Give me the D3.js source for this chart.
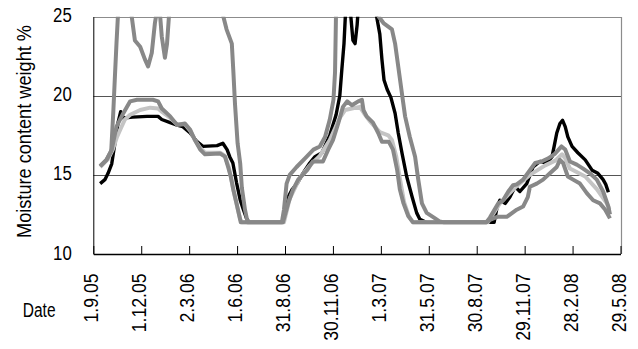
<!DOCTYPE html>
<html lang="en">
<head>
  <meta charset="UTF-8">
  <title>Moisture content</title>
  <script src="https://d3js.org/d3.v7.min.js"></script>
  <style>
    body { margin: 0; background: #fff; }
    text { font-family: "Liberation Sans", Arial, sans-serif; fill: #000; }
  </style>
</head>
<body>
<script>
  // tick labels of the date axis (every 91 days)
  var dateTicks = ['1.9.05','1.12.05','2.3.06','1.6.06','31.8.06','30.11.06','1.3.07','31.5.07','30.8.07','29.11.07','28.2.08','29.5.08']
  var yTicks = [10, 15, 20, 25]

  // four sensors, values (above 25 = off the chart)
  var black = [["2005-09-14",14.45],["2005-09-23",14.7],["2005-09-29",15.1],["2005-10-06",15.7],["2005-10-12",17.0],["2005-10-18",18.3],["2005-10-23",19.0],["2005-10-28",18.6],["2005-11-15",18.65],["2005-12-12",18.7],["2006-01-02",18.7],["2006-01-09",18.5],["2006-01-25",18.3],["2006-02-07",18.15],["2006-02-18",18.05],["2006-03-04",17.65],["2006-03-17",17.1],["2006-03-28",16.8],["2006-04-24",16.85],["2006-05-05",17.0],["2006-05-13",16.6],["2006-05-18",16.15],["2006-05-24",15.75],["2006-05-31",14.5],["2006-06-07",13.4],["2006-06-13",12.8],["2006-06-19",12.25],["2006-06-24",12.0],["2006-08-27",12.0],["2006-09-06",13.6],["2006-09-13",14.05],["2006-09-23",14.45],["2006-10-04",15.1],["2006-10-17",15.75],["2006-10-27",16.15],["2006-11-09",16.4],["2006-11-24",17.5],["2006-12-06",18.8],["2006-12-13",20.0],["2006-12-17",21.7],["2006-12-21",23.3],["2006-12-25",26],["2006-12-30",26.5],["2007-01-03",25],["2007-01-07",23.5],["2007-01-11",23.3],["2007-01-15",24.5],["2007-01-18",26],["2007-01-30",28],["2007-02-12",27],["2007-02-21",25],["2007-02-27",23.9],["2007-03-03",22.3],["2007-03-07",21.0],["2007-03-13",20.4],["2007-03-20",19.9],["2007-03-28",18.9],["2007-04-03",17.65],["2007-04-10",16.4],["2007-04-19",14.9],["2007-04-29",13.65],["2007-05-08",12.6],["2007-05-14",12.2],["2007-05-26",12.0],["2007-10-02",12.0],["2007-10-08",13.0],["2007-10-13",13.4],["2007-10-23",13.2],["2007-11-01",13.6],["2007-11-11",14.25],["2007-11-20",13.95],["2007-12-03",14.45],["2007-12-15",15.5],["2007-12-28",15.85],["2008-01-10",15.75],["2008-01-20",16.15],["2008-01-24",16.8],["2008-01-29",17.65],["2008-02-04",18.25],["2008-02-09",18.45],["2008-02-14",18.05],["2008-02-19",17.4],["2008-02-27",16.8],["2008-03-09",16.4],["2008-03-23",15.95],["2008-04-05",15.3],["2008-04-16",15.1],["2008-04-26",14.7],["2008-05-01",14.4],["2008-05-06",13.9]]

  var lightGray = [["2005-09-14",15.5],["2005-09-29",16.0],["2005-10-08",16.6],["2005-10-16",17.4],["2005-10-24",18.0],["2005-10-31",18.5],["2005-11-10",18.8],["2005-11-29",19.1],["2005-12-18",19.25],["2006-01-02",19.2],["2006-01-09",19.0],["2006-01-25",18.6],["2006-02-07",18.2],["2006-02-22",18.2],["2006-03-04",17.8],["2006-03-13",17.2],["2006-03-23",16.7],["2006-04-01",16.4],["2006-04-30",16.4],["2006-05-09",16.2],["2006-05-17",15.4],["2006-05-24",14.2],["2006-06-01",13.0],["2006-06-07",12.2],["2006-06-10",12.0],["2006-08-29",12.0],["2006-09-09",13.5],["2006-09-28",14.8],["2006-10-17",15.6],["2006-11-05",16.2],["2006-11-24",17.2],["2006-12-13",18.6],["2006-12-23",19.1],["2007-01-05",19.2],["2007-01-20",19.3],["2007-01-28",18.9],["2007-02-08",18.4],["2007-02-27",17.7],["2007-03-15",17.5],["2007-03-22",17.2],["2007-03-30",16.2],["2007-04-06",14.8],["2007-04-14",13.3],["2007-04-23",12.4],["2007-05-01",12.0],["2007-09-20",12.0],["2007-10-13",13.2],["2007-11-11",14.2],["2007-12-09",15.0],["2008-01-07",15.6],["2008-01-26",15.9],["2008-02-08",16.3],["2008-02-15",16.0],["2008-02-23",15.4],["2008-03-23",14.9],["2008-04-14",14.1],["2008-05-03",13.2],["2008-05-08",12.8]]

  var grayA = [["2005-09-14",15.55],["2005-09-26",15.95],["2005-10-06",16.6],["2005-10-15",18.05],["2005-10-28",18.9],["2005-11-10",19.65],["2005-11-23",19.75],["2005-12-12",19.75],["2005-12-23",19.75],["2006-01-02",19.65],["2006-01-09",19.2],["2006-01-25",18.7],["2006-02-07",18.15],["2006-02-22",18.25],["2006-03-04",17.85],["2006-03-13",17.2],["2006-03-23",16.6],["2006-04-01",16.3],["2006-04-30",16.35],["2006-05-09",16.15],["2006-05-15",15.5],["2006-05-20",14.9],["2006-05-25",14.05],["2006-05-31",13.2],["2006-06-07",12.15],["2006-06-08",12.0],["2006-08-27",12.0],["2006-09-06",13.2],["2006-09-15",14.05],["2006-09-25",14.7],["2006-10-12",15.3],["2006-10-23",15.85],["2006-11-11",15.85],["2006-11-21",16.6],["2006-11-30",17.2],["2006-12-10",18.25],["2006-12-19",19.3],["2006-12-27",19.65],["2007-01-05",19.4],["2007-01-17",19.65],["2007-01-24",19.75],["2007-01-27",19.1],["2007-02-02",18.7],["2007-02-14",18.3],["2007-02-24",17.65],["2007-03-03",17.1],["2007-03-16",17.1],["2007-03-24",16.6],["2007-04-01",15.3],["2007-04-06",14.1],["2007-04-13",13.2],["2007-04-22",12.4],["2007-05-01",12.0],["2007-09-17",12.0],["2007-09-24",12.15],["2007-10-08",12.35],["2007-10-26",12.35],["2007-11-14",12.8],["2007-11-26",13.0],["2007-12-05",13.6],["2007-12-09",14.25],["2007-12-22",14.45],["2008-01-03",14.7],["2008-01-16",15.1],["2008-01-29",15.5],["2008-02-04",15.95],["2008-02-10",15.75],["2008-02-19",14.9],["2008-02-29",14.7],["2008-03-13",14.45],["2008-03-26",13.85],["2008-04-07",13.4],["2008-04-20",13.2],["2008-04-30",12.8],["2008-05-09",12.25]]

  var grayB = [["2005-09-14",15.55],["2005-09-26",15.95],["2005-10-05",16.5],["2005-10-09",19.0],["2005-10-12",21.2],["2005-10-15",23.3],["2005-10-18",25.2],["2005-10-25",27],["2005-11-06",27],["2005-11-13",25],["2005-11-19",23.5],["2005-11-29",23.1],["2005-12-08",22.3],["2005-12-14",21.85],["2005-12-21",22.7],["2005-12-27",24.6],["2005-12-30",25.2],["2006-01-03",25.4],["2006-01-06",25],["2006-01-09",23.75],["2006-01-15",22.4],["2006-01-19",23.3],["2006-01-23",25.2],["2006-02-03",28],["2006-03-23",28],["2006-04-20",27],["2006-05-03",25.5],["2006-05-06",25],["2006-05-12",24.2],["2006-05-22",23.3],["2006-05-25",21.5],["2006-05-28",19.5],["2006-06-02",17.0],["2006-06-07",15.7],["2006-06-10",14.2],["2006-06-16",12.8],["2006-06-21",12.0],["2006-08-25",12.0],["2006-08-29",12.8],["2006-09-03",14.45],["2006-09-09",15.0],["2006-09-22",15.5],["2006-10-08",16.05],["2006-10-24",16.6],["2006-11-05",16.8],["2006-11-15",17.4],["2006-11-24",18.5],["2006-12-01",19.75],["2006-12-04",21.5],["2006-12-06",25.5],["2006-12-13",28],["2007-02-08",28],["2007-02-20",26],["2007-02-25",25],["2007-03-06",24.6],["2007-03-22",24.2],["2007-03-28",23.3],["2007-04-03",21.85],["2007-04-10",20.15],["2007-04-16",18.7],["2007-04-25",17.4],["2007-05-05",16.15],["2007-05-11",14.7],["2007-05-18",13.2],["2007-05-27",12.6],["2007-06-12",12.25],["2007-06-21",12.05],["2007-06-29",12.0],["2007-09-17",12.0],["2007-09-24",12.3],["2007-10-10",13.2],["2007-10-19",13.4],["2007-10-29",13.95],["2007-11-07",14.35],["2007-11-14",14.4],["2007-11-26",14.7],["2007-12-09",15.3],["2007-12-19",15.75],["2007-12-31",15.85],["2008-01-13",16.05],["2008-01-26",16.35],["2008-02-07",16.8],["2008-02-14",16.6],["2008-02-23",15.85],["2008-03-07",15.65],["2008-03-19",15.4],["2008-04-01",15.1],["2008-04-14",14.7],["2008-04-26",13.95],["2008-05-06",13.0],["2008-05-09",12.5]]

  var width = 638
  var height = 349
  var plot = {left: 93.3, right: 620.5, top: 16.7, bottom: 254}

  var parseIso = d3.timeParse('%Y-%m-%d')
  var parseTick = d3.timeParse('%d.%m.%y')
  var tickDates = dateTicks.map(parseTick)

  var svg = d3.select('body').append('svg').attr('width', width).attr('height', height)

  var xScale = d3.scaleTime().domain([tickDates[0], tickDates[tickDates.length - 1]]).range([plot.left, plot.right])
  var yScale = d3.scaleLinear().domain([10, 25]).range([plot.bottom, plot.top])

  drawFrame()
  drawLines()
  drawAxis()

  function drawFrame(){
    // gridlines at 15 and 20
    svg.append('g').selectAll('line').data([15, 20]).enter().append('line')
       .attr('x1', plot.left).attr('x2', plot.right + 1)
       .attr('y1', function(d){ return Math.round(yScale(d)) + 0.5 })
       .attr('y2', function(d){ return Math.round(yScale(d)) + 0.5 })
       .attr('stroke', '#555').attr('stroke-width', 1)
    // top and right border, grey
    svg.append('path')
       .attr('d', 'M' + plot.left + ',' + (Math.round(plot.top) + 0.5) + 'H' + (Math.round(plot.right) + 0.5) + 'V' + plot.bottom)
       .attr('fill', 'none').attr('stroke', '#8c8c8c').attr('stroke-width', 1.2)
  }

  function drawLines(){
    svg.append('clipPath').attr('id', 'clip').append('rect')
       .attr('x', plot.left).attr('y', plot.top)
       .attr('width', plot.right - plot.left + 1).attr('height', plot.bottom - plot.top)
    var line = d3.line()
                 .x(function(d){ return xScale(parseIso(d[0])) })
                 .y(function(d){ return yScale(d[1]) })
    var series = [
      {data: black, color: '#000', w: 3.4},
      {data: lightGray, color: '#c4c4c4', w: 4},
      {data: grayA, color: '#888', w: 4},
      {data: grayB, color: '#888', w: 4}
    ]
    svg.append('g').attr('clip-path', 'url(#clip)')
       .selectAll('path').data(series).enter().append('path')
       .attr('d', function(d){ return line(d.data) })
       .attr('fill', 'none')
       .attr('stroke', function(d){ return d.color })
       .attr('stroke-width', function(d){ return d.w })
       .attr('stroke-linejoin', 'round')
  }

  function drawAxis(){
    // date axis, ticks pointing into the plot; the original face is narrow, so squeeze with scale()
    var xAxis = d3.axisBottom(xScale).tickValues(tickDates)
                  .tickFormat(function(d, i){ return dateTicks[i] })
                  .tickSizeInner(-8).tickSizeOuter(0)
    var gx = svg.append('g').attr('transform', 'translate(0,' + plot.bottom + ')').call(xAxis)
    gx.attr('font-family', null)
    gx.select('.domain').attr('stroke', '#000').attr('stroke-width', 1.5)
    gx.selectAll('.tick line').attr('stroke', '#000')
    gx.selectAll('.tick text')
      .attr('font-size', 21).attr('fill', '#000')
      .attr('transform', 'translate(4.5,19.5) rotate(-90) scale(0.84,1)')
      .attr('text-anchor', 'end')
      .attr('x', 0).attr('y', 0).attr('dy', 0)

    // value axis, no tick marks
    var yAxis = d3.axisLeft(yScale).tickValues(yTicks).tickSize(0)
    var gy = svg.append('g').attr('transform', 'translate(' + plot.left + ',0)').call(yAxis)
    gy.attr('font-family', null)
    gy.select('.domain').attr('stroke', '#000').attr('stroke-width', 1)
    gy.selectAll('.tick text').attr('font-size', 21).attr('fill', '#000')
      .attr('x', 0).attr('dy', 0)
      .attr('transform', 'translate(-21.5,5) scale(0.8,1)')

    // axis titles
    svg.append('text').attr('transform', 'translate(31,131.5) rotate(-90) scale(0.865,1)')
       .attr('text-anchor', 'middle').attr('font-size', 21).text('Moisture content weight %')
    svg.append('text').attr('transform', 'translate(22.7,316.7) scale(0.74,1)')
       .attr('font-size', 21).text('Date')
  }
</script>
</body>
</html>
